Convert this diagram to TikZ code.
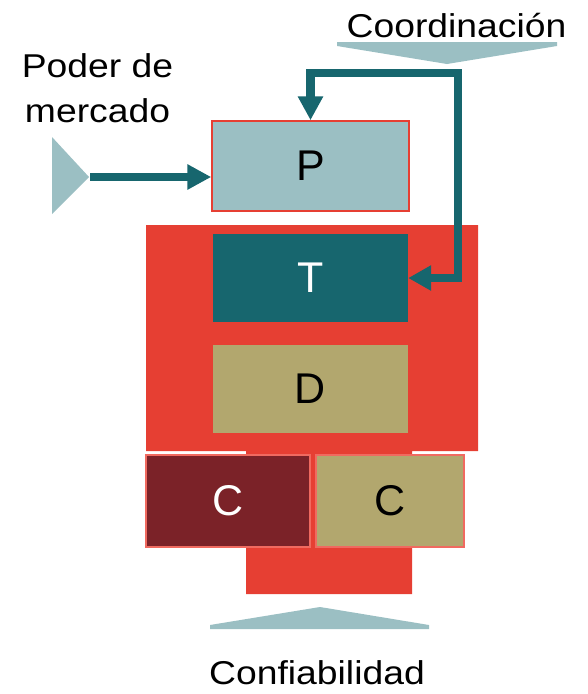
\documentclass[tikz,border=0pt]{standalone}
\usepackage{fontspec}
\setmainfont{Liberation Sans}
\newfontfamily\lblfont[FakeStretch=1.13]{Liberation Sans}
\usetikzlibrary{arrows.meta}
\definecolor{lteal}{HTML}{9BBFC3}
\definecolor{dteal}{HTML}{17666E}
\definecolor{bred}{HTML}{E63F33}
\definecolor{khaki}{HTML}{B2A76E}
\definecolor{dred}{HTML}{7B2228}
\definecolor{lred}{HTML}{F06A60}

\begin{document}
\begin{tikzpicture}[x=1pt,y=-1pt,
	box/.style={inner sep=0pt,minimum width=195pt,minimum height=88pt,font=\fontsize{43}{43}\selectfont},
	lbl/.style={inner sep=0pt,anchor=base,align=center,font=\lblfont\fontsize{33}{45}\selectfont},
	conn/.style={dteal,line width=8.5pt}]
		\useasboundingbox (0,0) rectangle (587,694);
		
		%red block
		\fill[bred] (146,225) -- (478,225) -- (478,451) -- (412,451) -- (412,594) -- (246,594) -- (246,451) -- (146,451) -- cycle;
		
		%boxes
		\node[box,fill=lteal,draw=bred,line width=1.5pt,minimum width=197pt,minimum height=90pt] (P) at (310.5,166) {P};
		\node[box,fill=dteal,text=white] (T) at (310.5,278) {T};
		\node[box,fill=khaki] (D) at (310.5,389) {D};
		\node[box,fill=dred,draw=lred,line width=1.5pt,text=white,minimum width=164pt,minimum height=92pt] (C1) at (228,501) {C};
		\node[box,fill=khaki,draw=lred,line width=1.5pt,minimum width=148pt,minimum height=92pt] (C2) at (390,501) {C};
		
		%inputs
		\fill[lteal] (337,42) -- (557,42) -- (557,46) -- (447,64) -- (337,46) -- cycle;
		\fill[lteal] (52,137) -- (89,177) -- (52,214) -- cycle;
		\fill[lteal] (210,629) -- (210,625) -- (320,607) -- (429,625) -- (429,629) -- cycle;
		
		%labels
		\node[lbl] (coord) at (456.5,37) {Coordinación};
		\node[lbl] (poder) at (97.5,122) {Poder de\\mercado};
		\node[lbl] (conf) at (317,684) {Confiabilidad};
		
		%arrows
		\coordinate (pmtip) at (90,177);
		\coordinate (cobend) at (458,73);
		\draw[conn,-{Triangle[width=24pt,length=24pt]}] (pmtip) -- (pmtip -| P.west);
		\draw[conn,{Triangle[width=24pt,length=24pt]}-{Triangle[width=24pt,length=23pt]}] (P.north) |- (cobend) |- (T.east);
		
\end{tikzpicture}
\end{document}
